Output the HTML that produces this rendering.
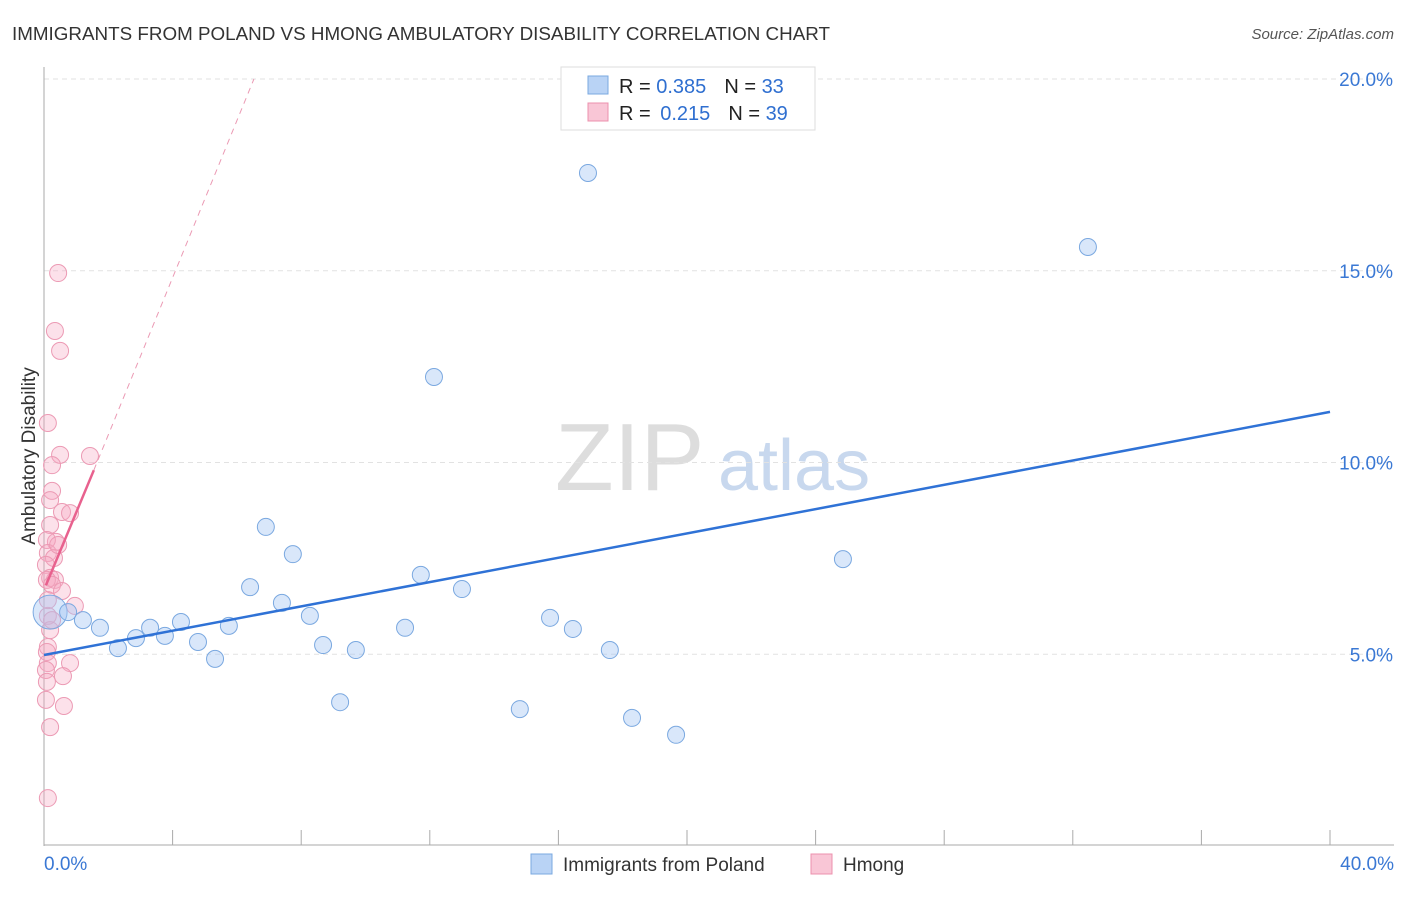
<!DOCTYPE html>
<html><head><meta charset="utf-8"><style>
body{margin:0;background:#fff;font-family:"Liberation Sans",sans-serif;}
svg text{font-family:"Liberation Sans",sans-serif;}
</style></head><body>
<svg id="chart" width="1406" height="892" xmlns="http://www.w3.org/2000/svg">
<text x="12" y="40" font-size="18" fill="#333" textLength="818" lengthAdjust="spacingAndGlyphs">IMMIGRANTS FROM POLAND VS HMONG AMBULATORY DISABILITY CORRELATION CHART</text>
<text x="1394" y="39" font-size="15" fill="#555" text-anchor="end" font-style="italic">Source: ZipAtlas.com</text>
<text x="35" y="456" font-size="19" fill="#333" text-anchor="middle" transform="rotate(-90 35 456)">Ambulatory Disability</text>
<text x="555" y="490" font-size="96" fill="#ddd" font-family="Liberation Serif">ZIP</text>
<text x="718" y="490" font-size="72" fill="#c8d8ee">atlas</text>
<g id="grid"></g><g id="axes"></g><g id="pts"></g><g id="lines"></g>
<g>
<rect x="561" y="67" width="254" height="63" fill="#fff" stroke="#ddd"/>
<rect x="588" y="76" width="20" height="18" fill="#b9d3f5" stroke="#7aa8e0"/>
<rect x="588" y="103" width="20" height="18" fill="#f9c6d6" stroke="#ec90ad"/>
<text x="619" y="93" font-size="20" fill="#222">R = <tspan fill="#2f6fd0">0.385</tspan><tspan dx="18">N = </tspan><tspan fill="#2f6fd0">33</tspan></text>
<text x="619" y="120" font-size="20" fill="#222">R = <tspan fill="#2f6fd0" dx="4">0.215</tspan><tspan dx="18">N = </tspan><tspan fill="#2f6fd0">39</tspan></text>
</g>
<g>
<rect x="531" y="854" width="21" height="20" fill="#b9d3f5" stroke="#7aa8e0"/>
<text x="563" y="871" font-size="19" fill="#333">Immigrants from Poland</text>
<rect x="811" y="854" width="21" height="20" fill="#f9c6d6" stroke="#ec90ad"/>
<text x="843" y="871" font-size="19" fill="#333">Hmong</text>
</g>
</svg>
<script>
const blueX=[0.19,0.75,1.21,1.74,2.30,2.86,3.30,3.76,4.26,4.79,5.32,5.75,6.41,6.90,7.40,7.74,8.27,8.68,9.21,9.70,11.23,11.72,12.13,13.00,14.80,15.74,16.45,17.60,18.29,19.66,16.92,24.85,32.47];
const blueY=[6.10,6.10,5.89,5.69,5.16,5.42,5.69,5.48,5.84,5.32,4.88,5.74,6.75,8.32,6.34,7.61,6.00,5.24,3.75,5.11,5.69,7.07,12.23,6.70,3.57,5.95,5.66,5.11,3.34,2.90,17.55,7.48,15.62];
const pinkX=[0.44,0.34,0.50,0.12,0.50,1.43,0.25,0.25,0.19,0.56,0.81,0.19,0.37,0.09,0.12,0.31,0.06,0.19,0.34,0.09,0.25,0.56,0.96,0.12,0.19,0.12,0.09,0.81,0.12,0.06,0.09,0.59,0.62,0.19,0.12,0.12,0.25,0.44,0.06];
const pinkY=[14.94,13.43,12.91,11.03,10.20,10.17,9.93,9.26,9.02,8.71,8.68,8.37,7.93,7.98,7.64,7.51,7.33,6.99,6.94,6.94,6.81,6.65,6.26,6.00,5.63,5.19,5.06,4.77,4.77,4.59,4.28,4.43,3.65,3.10,1.25,6.41,5.89,7.85,3.81];
const yTicks=[5,10,15,20];
const yTickLabels=["5.0%","10.0%","15.0%","20.0%"];
const blueTrend=[0,4.98,40,11.32];
const pinkTrend=[0.06,6.8,1.55,9.8];
const pinkDash=[1.55,9.8,6.53,20];
const NS="http://www.w3.org/2000/svg";
const X=v=>44+v/40*1286, Y=v=>846-v*38.35;
function mk(p,t,a){const e=document.createElementNS(NS,t);for(const k in a)e.setAttribute(k,a[k]);document.getElementById(p).appendChild(e);return e;}
yTicks.forEach((t,i)=>{
 const g=mk('grid','line',{x1:44,x2:1394,y1:Y(t),y2:Y(t),stroke:'#e2e2e2','stroke-dasharray':'5,4'});
 
 
 const l=mk('grid','text',{x:1393,y:Y(t)+7,'font-size':19,fill:'#3a78d4','text-anchor':'end'});l.textContent=yTickLabels[i];
 
 
});
let a=mk('axes','line',{x1:44,x2:44,y1:67,y2:846,stroke:'#aaa'});


a=mk('axes','line',{x1:44,x2:1394,y1:845,y2:845,stroke:'#aaa'});


for(let i=0;i<=10;i++){const t=mk('axes','line',{x1:X(i*4),x2:X(i*4),y1:830,y2:845,stroke:'#aaa'});
 
 }
let t=mk('axes','text',{x:44,y:870,'font-size':19,fill:'#3a78d4'});t.textContent='0.0%';


t=mk('axes','text',{x:1394,y:870,'font-size':19,fill:'#3a78d4','text-anchor':'end'});t.textContent='40.0%';


pinkX.forEach((x,i)=>{const c=mk('pts','circle',{cx:X(x),cy:Y(pinkY[i]),r:8.5,fill:'rgba(246,170,195,0.35)',stroke:'#ec9ab4','stroke-width':1});
 
 });
blueX.forEach((x,i)=>{const c=mk('pts','circle',{cx:X(x),cy:Y(blueY[i]),r:i===0?17:8.5,fill:'rgba(165,198,242,0.42)',stroke:'#7aa8e0','stroke-width':1});
 
 });
let L=mk('lines','line',{x1:X(blueTrend[0]),y1:Y(blueTrend[1]),x2:X(blueTrend[2]),y2:Y(blueTrend[3]),stroke:'#2f72d6','stroke-width':2.5});


L=mk('lines','line',{x1:X(pinkTrend[0]),y1:Y(pinkTrend[1]),x2:X(pinkTrend[2]),y2:Y(pinkTrend[3]),stroke:'#e8618e','stroke-width':2.5});


L=mk('lines','line',{x1:X(pinkDash[0]),y1:Y(pinkDash[1]),x2:X(pinkDash[2]),y2:Y(pinkDash[3]),stroke:'#eb9ab4','stroke-width':1,'stroke-dasharray':'6,5'});


</script>
</body></html>
